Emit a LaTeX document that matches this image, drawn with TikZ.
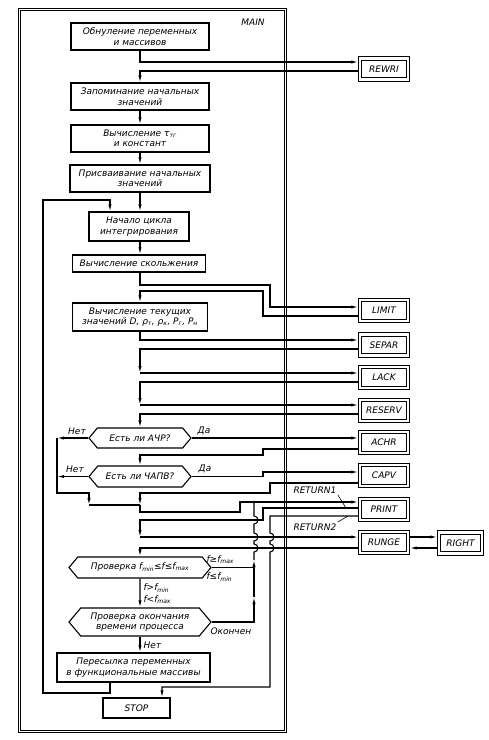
\documentclass[tikz,border=0pt]{standalone}
\usepackage{fontspec}
\setmainfont{DejaVu Sans}
\usetikzlibrary{arrows.meta,shapes.symbols}

\begin{document}
\begin{tikzpicture}[
    x=1pt, y=-1pt,
    >={Latex[length=7pt,width=3.2pt]},
    font=\itshape\fontsize{9}{10.5}\selectfont,
    line width=1.1pt,
    mainframe/.style={
        draw,
        double,
        double distance=1.6pt,
        rectangle
    },
    blk/.style={
        draw,
        rectangle,
        align=center,
        inner sep=1pt
    },
    subr/.style={
        draw,
        double,
        double distance=2.2pt,
        rectangle,
        minimum width=48pt,
        minimum height=21pt,
        inner sep=1pt,
        outer sep=1.7pt
    },
    dec/.style={
        draw,
        shape=signal,
        signal to=west and east,
        signal pointer angle=100,
        align=center,
        inner sep=1pt
    },
    lbl/.style={
        inner sep=1pt
    },
    lead/.style={
        line width=0.6pt
    }
]

\useasboundingbox (0,0) rectangle (488,740);

\node[mainframe, minimum width=266pt, minimum height=722pt] (main) at (152.5,370.5) {};
\node[lbl] (mainlbl) at (253,22) {MAIN};

% main chain
\node[blk, minimum width=138pt, minimum height=27pt] (zero) at (140,36.5)
    {Обнуление переменных\\и массивов};

\node[blk, minimum width=138pt, minimum height=27pt] (store) at (140,96.5)
    {Запоминание начальных\\значений};

\node[blk, minimum width=138pt, minimum height=27pt] (calc) at (140,138.5)
    {Вычисление τ\textsubscript{тг}\\и констант};

\node[blk, minimum width=140pt, minimum height=27pt] (assign) at (140,178.5)
    {Присваивание начальных\\значений};

\node[blk, minimum width=100pt, minimum height=29pt] (loopstart) at (139,226.5)
    {Начало цикла\\интегрирования};

\node[blk, minimum width=133pt, minimum height=17pt] (slip) at (139,263.5)
    {Вычисление скольжения};

\node[blk, minimum width=135pt, minimum height=28pt] (current) at (140,317)
    {Вычисление текущих\\значений D, ρ\textsubscript{т}, ρ\textsubscript{к}, P\textsubscript{г}, P\textsubscript{н}};

\node[dec, minimum width=102pt, minimum height=20pt] (ach) at (140,438)
    {Есть ли АЧР?};

\node[dec, minimum width=102pt, minimum height=21pt] (capvq) at (140,476.5)
    {Есть ли ЧАПВ?};

\node[dec, minimum width=142pt, minimum height=21pt] (fq) at (140,567.5)
    {Проверка f\textsubscript{min}≤f≤f\textsubscript{max}};

\node[dec, minimum width=142pt, minimum height=28pt] (endq) at (140,622)
    {Проверка окончания\\времени процесса};

\node[blk, minimum width=153pt, minimum height=29pt] (transfer) at (133.5,667.5)
    {Пересылка переменных\\в функциональные массивы};

\node[blk, minimum width=67pt, minimum height=20pt] (stop) at (136.5,708)
    {STOP};

% subroutines
\node[subr] (rewri) at (384,69) {REWRI};
\node[subr] (limit) at (384,310.5) {LIMIT};
\node[subr] (separ) at (384,345) {SEPAR};
\node[subr] (lack) at (384,377.5) {LACK};
\node[subr] (reserv) at (384,410.5) {RESERV};
\node[subr] (achr) at (384,442.5) {ACHR};
\node[subr] (capv) at (384,475.5) {CAPV};
\node[subr] (print) at (384,509.5) {PRINT};
\node[subr] (runge) at (384,542.5) {RUNGE};
\node[subr, minimum width=43pt] (rightsub) at (460.5,543) {RIGHT};

% labels
\node[lbl] (yes1) at (204,431) {Да};
\node[lbl] (no1) at (77,431) {Нет};
\node[lbl] (yes2) at (205,469) {Да};
\node[lbl] (no2) at (75,469) {Нет};
\node[lbl, anchor=west] (fhi) at (205,560) {f≥f\textsubscript{max}};
\node[lbl, anchor=west] (flo) at (205,577) {f≤f\textsubscript{min}};
\node[lbl, anchor=west] (fin1) at (142,588) {f>f\textsubscript{min}};
\node[lbl, anchor=west] (fin2) at (142,600) {f<f\textsubscript{max}};
\node[lbl, anchor=west] (done) at (209,631) {Окончен};
\node[lbl, anchor=west] (no3) at (142,645) {Нет};
\node[lbl, anchor=west] (ret1) at (292,490) {RETURN1};
\node[lbl, anchor=west] (ret2) at (292,527) {RETURN2};

\coordinate (lackin) at (140,373);
\coordinate (reservin) at (140,405);
\coordinate (nojoin) at (57,438);
\coordinate (noin) at (89,505);
\coordinate (mergein) at (140,505);
\coordinate (rungein) at (140,537);
\coordinate (upa) at (254,597);
\coordinate (upb) at (254,560);
\coordinate (upc) at (254,502);

% chain
\draw[->] (zero.south) |- (rewri.west |- 0,62);
\draw[->] (rewri.west |- 0,71) -| (store.north -| 140,0);
\draw[->] (store) -- (calc);
\draw[->] (calc) -- (assign);
\draw[->] (assign.south) -- (assign.south |- loopstart.north);
\draw[->] (loopstart.south -| 140,0) -- (slip.north -| 140,0);

\draw[->] (slip.south -| 140,0) |- (270,285) |- (limit.west |- 0,307);
\draw[->] (limit.west |- 0,316) -| (263,291) -| (current.north);

\draw[->] (current.south) |- (separ.west |- 0,340);
\draw[->] (separ.west |- 0,349) -| (lackin);
\draw[->] (lackin) -- (lack.west |- lackin);
\draw[->] (lack.west |- 0,382) -| (reservin);
\draw[->] (reservin) -- (reserv.west |- reservin);
\draw[->] (reserv.west |- 0,414) -| (ach.north);

\draw[->] (ach.east) -- (achr.west |- ach.east);
\draw[->] (ach.west) -- (nojoin);
\draw[->] (achr.west |- 0,449) -| (263,455) -| (capvq.north);

\draw[->] (capvq.east) -| (263,472) -- (capv.west |- 0,472);
\draw[->] (capvq.west) -- (nojoin |- capvq.west);

\draw[->] (nojoin) |- (89,493) -- (noin);
\draw (noin) -- (mergein);
\draw[->] (capv.west |- 0,483) -| (270,493) -| (mergein);

\draw[->] (mergein) |- (240,512) |- (print.west |- 0,502);

% RETURN1
\draw[->] (print.west |- 0,508) -| (263,520) -| (rungein);
\draw[->] (rungein) -- (runge.west |- rungein);
\draw[lead] (ret1.south east) -- (346,508);

% RETURN2
\draw[->] (print.west |- 0,516) -| (270,533)
    arc[start angle=90, end angle=-90, radius=4pt]
    -- (270,544)
    arc[start angle=90, end angle=-90, radius=4pt]
    |- (162,687) -- (stop.north -| 162,0);
\draw[lead] (ret2.north east) -- (348,516);

\draw[->] (runge.east |- 0,537) -- (rightsub.west |- 0,537);
\draw[->] (rightsub.west |- 0,548) -- (runge.east |- 0,548);
\draw[->] (runge.west |- 0,548) -| (fq.north);

% f and end checks
\draw (fq.east) -- (fq.east -| upa);
\draw[->] (endq.east) -| (upa);
\draw[->] (upa) -- (upb);
\draw (upb) -- (254,552)
    arc[start angle=-90, end angle=90, radius=4pt]
    -- (254,541)
    arc[start angle=-90, end angle=90, radius=4pt]
    -- (254,524)
    arc[start angle=-90, end angle=90, radius=4pt]
    -- (upc);
\fill (upc) circle (1.3pt);

\draw[->] (fq) -- (endq);
\draw[->] (endq.south) -- (endq.south |- transfer.north);

% integration loop
\draw[->] (transfer.south -| 110,0) |- (43,693) |- (110,200) -- (loopstart.north -| 110,0);

\end{tikzpicture}
\end{document}
